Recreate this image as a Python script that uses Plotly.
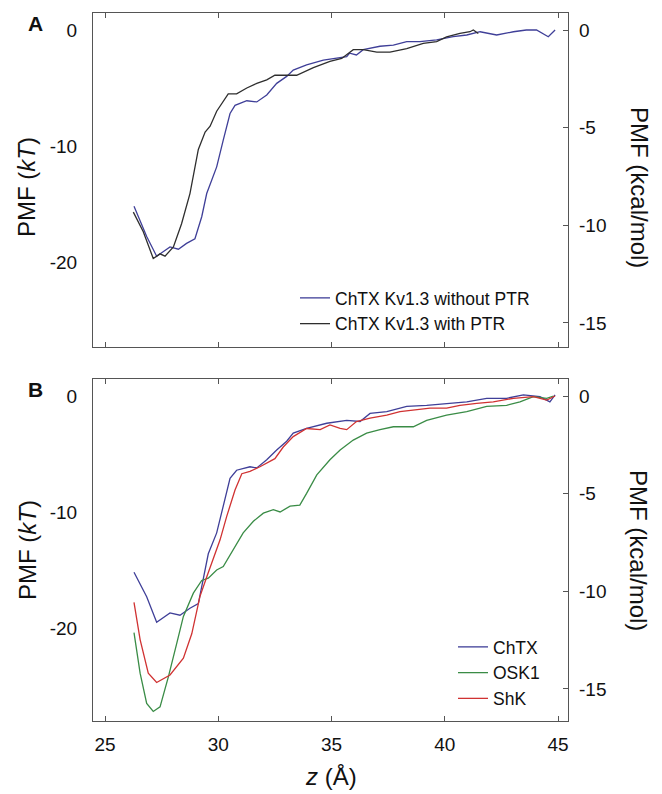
import plotly.graph_objects as go

# ---------------- data ----------------
# Panel A
z_a_without = [26.28, 26.84, 27.28, 27.57, 27.87, 28.24, 28.6, 28.97, 29.27, 29.49, 29.93, 30.22,
               30.52, 30.74, 31.26, 31.70, 32.14, 32.58, 33.02, 33.31, 33.9, 34.64, 35.23, 35.67,
               35.8, 36.1, 36.4, 37.14, 37.73, 38.32, 38.9, 39.64, 40.37, 40.97, 41.56, 42.29,
               43.03, 43.6, 44.05, 44.57, 44.87]
pmf_a_without = [-15.2, -17.8, -19.5, -19.1, -18.7, -18.9, -18.4, -18.0, -16.1, -14.1, -11.8, -9.5,
                 -7.2, -6.5, -6.1, -6.2, -5.6, -4.6, -4.0, -3.45, -3.0, -2.6, -2.45, -2.3,
                 -2.0, -2.15, -1.7, -1.4, -1.3, -1.0, -1.0, -0.86, -0.58, -0.43, -0.15, -0.43,
                 -0.15, 0.0, 0.0, -0.58, 0.0]

z_a_with = [26.25, 26.69, 27.13, 27.43, 27.65, 28.02, 28.38, 28.75, 29.12, 29.42, 29.64, 29.93,
            30.44, 30.81, 31.26, 31.70, 32.14, 32.5, 33.02, 33.46, 34.2, 34.93, 35.45, 35.96,
            36.4, 37.0, 37.58, 38.32, 39.05, 39.64, 40.08, 40.67, 41.11, 41.26, 41.48]
pmf_a_with = [-15.7, -17.4, -19.7, -19.3, -19.5, -18.7, -16.7, -14.1, -10.3, -8.8, -8.3, -7.0,
              -5.5, -5.5, -5.0, -4.6, -4.3, -3.9, -3.9, -3.9, -3.25, -2.7, -2.45, -1.7,
              -1.7, -1.9, -1.9, -1.6, -1.15, -1.0, -0.6, -0.3, -0.15, 0.0, -0.3]

# Panel B
z_chtx = [26.28, 26.84, 27.28, 27.87, 28.31, 28.75, 29.12, 29.34, 29.56, 29.93, 30.22, 30.52,
          30.81, 31.4, 31.70, 32.14, 32.58, 33.02, 33.31, 33.9, 34.79, 35.67, 36.26, 36.7,
          37.44, 38.32, 39.2, 40.08, 40.97, 41.85, 42.73, 43.47, 44.2, 44.64, 44.87]
pmf_chtx = [-15.2, -17.3, -19.5, -18.7, -18.9, -18.3, -17.9, -15.9, -13.6, -11.8, -9.5, -7.1,
            -6.4, -6.1, -6.2, -5.5, -4.65, -3.9, -3.2, -2.8, -2.35, -2.1, -2.2, -1.5,
            -1.35, -0.9, -0.8, -0.63, -0.5, -0.2, -0.2, 0.1, -0.05, -0.5, 0.1]

z_osk1 = [26.28, 26.55, 26.84, 27.13, 27.43, 27.8, 28.17, 28.46, 28.9, 29.27, 29.56, 29.93,
          30.22, 30.66, 31.1, 31.55, 31.99, 32.43, 32.73, 33.17, 33.6, 33.9, 34.35, 34.93,
          35.38, 35.96, 36.55, 37.14, 37.73, 38.61, 39.2, 40.08, 40.97, 41.85, 42.73, 43.32,
          43.91, 44.5, 44.8]
pmf_osk1 = [-20.4, -23.9, -26.5, -27.2, -26.8, -24.2, -21.3, -19.0, -17.0, -15.9, -15.7, -15.0,
            -14.7, -13.3, -11.8, -10.8, -10.1, -9.8, -10.0, -9.5, -9.4, -8.4, -6.8, -5.5,
            -4.65, -3.8, -3.2, -2.9, -2.65, -2.65, -2.1, -1.65, -1.35, -0.9, -0.8, -0.5,
            -0.05, -0.2, 0.0]

z_shk = [26.28, 26.55, 26.91, 27.28, 27.87, 28.46, 28.83, 29.19, 29.49, 29.86, 30.08, 30.37,
         30.74, 31.04, 31.4, 31.84, 32.14, 32.5, 32.87, 33.31, 33.9, 34.5, 34.93, 35.38,
         35.67, 36.1, 36.7, 37.44, 38.02, 38.61, 39.35, 40.08, 40.67, 41.41, 42.14, 43.03,
         43.91, 44.5, 44.87]
pmf_shk = [-17.8, -21.0, -23.9, -24.7, -24.05, -22.6, -20.5, -17.3, -15.6, -13.6, -12.4, -10.4,
           -8.1, -6.7, -6.5, -6.1, -5.8, -5.4, -4.4, -3.5, -2.8, -2.9, -2.5, -2.8,
           -2.9, -2.2, -1.9, -1.65, -1.35, -1.2, -1.05, -1.05, -0.8, -0.63, -0.5, -0.2,
           -0.05, -0.35, 0.0]

x_ticks = [25, 30, 35, 40, 45]
kt_ticks = [0, -10, -20]
kt_labels = ["0", "-10", "-20"]
kcal_ticks = [0, -5, -10, -15]
kcal_labels = ["0", "-5", "-10", "-15"]

KT_TO_KCAL = 0.594  # ratio between the left (kT) and right (kcal/mol) scales

# ---------------- styling ----------------
FONT = "Liberation Sans, Arial, sans-serif"
AX = "#555555"
C_BLUE = "#3f3f98"
C_BLACK = "#2e2e2e"
C_GREEN = "#3a8c46"
C_RED = "#d03232"
LW = 1.3

W, H = 662, 794
def px_x(p):
    return p / W
def px_y(p):
    return 1 - p / H

xdom = [px_x(93), px_x(568)]
ydomA = [px_y(347), px_y(13)]
ydomB = [px_y(721), px_y(379)]
xrange_ = [24.47, 45.44]
yrA = [-27.33, 1.466]
yrB = [-28.02, 1.466]

fig = go.Figure()

fig.add_trace(go.Scatter(x=z_a_without, y=pmf_a_without, mode="lines", name="ChTX Kv1.3 without PTR",
                         line=dict(color=C_BLUE, width=LW), xaxis="x", yaxis="y", legend="legend"))
fig.add_trace(go.Scatter(x=z_a_with, y=pmf_a_with, mode="lines", name="ChTX Kv1.3 with PTR",
                         line=dict(color=C_BLACK, width=LW), xaxis="x", yaxis="y", legend="legend"))

fig.add_trace(go.Scatter(x=z_chtx, y=pmf_chtx, mode="lines", name="ChTX",
                         line=dict(color=C_BLUE, width=LW), xaxis="x2", yaxis="y2", legend="legend2"))
fig.add_trace(go.Scatter(x=z_osk1, y=pmf_osk1, mode="lines", name="OSK1",
                         line=dict(color=C_GREEN, width=LW), xaxis="x2", yaxis="y2", legend="legend2"))
fig.add_trace(go.Scatter(x=z_shk, y=pmf_shk, mode="lines", name="ShK",
                         line=dict(color=C_RED, width=LW), xaxis="x2", yaxis="y2", legend="legend2"))

# empty traces so the right-hand kcal/mol axes are drawn
fig.add_trace(go.Scatter(x=[None], y=[None], xaxis="x", yaxis="y3", showlegend=False, hoverinfo="skip"))
fig.add_trace(go.Scatter(x=[None], y=[None], xaxis="x2", yaxis="y4", showlegend=False, hoverinfo="skip"))

tickfont = dict(family=FONT, size=19, color="#111")

def xaxis(anchor, labels):
    return dict(domain=xdom, anchor=anchor, range=xrange_, tickvals=x_ticks,
                showticklabels=labels, ticks="inside", ticklen=5, tickcolor=AX, tickwidth=1,
                showline=True, linecolor=AX, linewidth=1.2, mirror="ticks",
                showgrid=False, zeroline=False, tickfont=tickfont, ticklabelstandoff=6)

def yleft(dom, rng, anchor):
    return dict(domain=dom, anchor=anchor, range=rng, tickvals=kt_ticks, ticktext=kt_labels,
                ticks="", showline=True, linecolor=AX, linewidth=1.2, mirror=True,
                showgrid=False, zeroline=False, tickfont=tickfont, ticklabelstandoff=11)

def yright(over, rng, anchor):
    return dict(overlaying=over, anchor=anchor, side="right",
                range=[rng[0] * KT_TO_KCAL, rng[1] * KT_TO_KCAL],
                tickvals=kcal_ticks, ticktext=kcal_labels,
                ticks="inside", ticklen=5, tickcolor=AX, tickwidth=1, showline=False,
                showgrid=False, zeroline=False, tickfont=tickfont, ticklabelstandoff=10)

legfont = dict(family=FONT, size=17.5, color="#111")

fig.update_layout(
    width=W, height=H,
    margin=dict(l=0, r=0, t=0, b=0),
    paper_bgcolor="white", plot_bgcolor="white",
    font=dict(family=FONT, color="#111"),
    xaxis=xaxis("y", False),
    xaxis2=xaxis("y2", True),
    yaxis=yleft(ydomA, yrA, "x"),
    yaxis2=yleft(ydomB, yrB, "x2"),
    yaxis3=yright("y", yrA, "x"),
    yaxis4=yright("y2", yrB, "x2"),
    legend=dict(x=px_x(295), y=px_y(280), xanchor="left", yanchor="top",
                bgcolor="rgba(0,0,0,0)", font=legfont, tracegroupgap=0, itemwidth=30),
    legend2=dict(x=px_x(453), y=px_y(629), xanchor="left", yanchor="top",
                 bgcolor="rgba(0,0,0,0)", font=legfont, tracegroupgap=0, itemwidth=30),
    showlegend=True,
)

title_font = dict(family=FONT, size=24, color="#111")
ann = []
for yc in (187, 550):
    ann.append(dict(text="PMF (<i>kT</i>)", x=px_x(27), y=px_y(yc), xref="paper", yref="paper",
                    showarrow=False, textangle=-90, font=title_font, xanchor="center", yanchor="middle"))
    ann.append(dict(text="PMF (kcal/mol)", x=px_x(639), y=px_y(yc), xref="paper", yref="paper",
                    showarrow=False, textangle=90, font=title_font, xanchor="center", yanchor="middle"))
ann.append(dict(text="<i>z</i> (Å)", x=px_x(331), y=px_y(776), xref="paper", yref="paper",
                showarrow=False, font=title_font, xanchor="center", yanchor="middle"))
for lbl, yc in (("A", 24), ("B", 389)):
    ann.append(dict(text=f"<b>{lbl}</b>", x=px_x(35), y=px_y(yc), xref="paper", yref="paper",
                    showarrow=False, font=dict(family=FONT, size=21, color="#111"),
                    xanchor="center", yanchor="middle"))
fig.update_layout(annotations=ann)

fig.write_html("out.html", config={"displayModeBar": False},
               post_script="document.body.style.margin='0px';")
